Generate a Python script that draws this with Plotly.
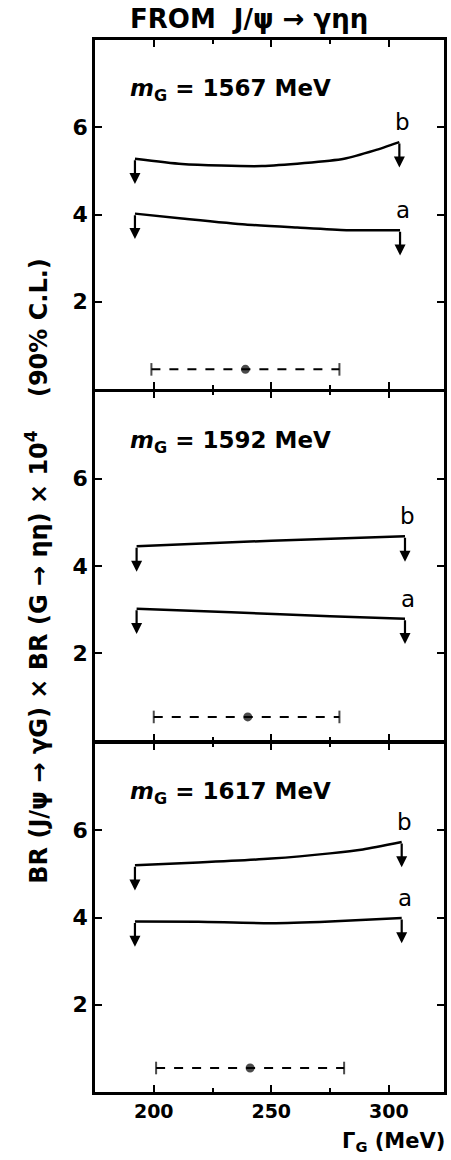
import plotly.graph_objects as go
from plotly.subplots import make_subplots

# ---------------- data ----------------
masses = ["1567", "1592", "1617"]

# upper limit curves: b (upper) and a (lower); x = Gamma_G (MeV), y = BR x BR x 1e4
g1_b = [192, 212, 246, 281, 294, 304.5]
v1_b = [5.28, 5.16, 5.11, 5.28, 5.47, 5.66]
g1_a = [192, 212, 239, 261, 282, 304.8]
v1_a = [4.02, 3.91, 3.77, 3.70, 3.64, 3.64]

g2_b = [192.7, 250, 306.9]
v2_b = [4.45, 4.58, 4.68]
g2_a = [192.7, 233, 275, 306.9]
v2_a = [3.02, 2.94, 2.85, 2.79]

g3_b = [192, 219, 250, 275, 289, 305.5]
v3_b = [5.20, 5.26, 5.35, 5.47, 5.56, 5.73]
g3_a = [192, 219, 250, 275, 305.5]
v3_a = [3.91, 3.90, 3.87, 3.91, 3.99]

curves_b = [(g1_b, v1_b), (g2_b, v2_b), (g3_b, v3_b)]
curves_a = [(g1_a, v1_a), (g2_a, v2_a), (g3_a, v3_a)]

# measured width (dashed bar): centre, low, high, drawn height
gamma_c = [239, 240, 241]
gamma_lo = [199, 200, 201]
gamma_hi = [279, 279, 281]
bar_y = [0.45, 0.54, 0.55]

arrow_len = 0.58          # length of the upper-limit arrows (data units)
x_ticks = [200, 250, 300]
y_ticks = [2, 4, 6]

FONT = "DejaVu Sans"
BLACK = "black"
LW = 2.5
PLOT_H = 1160 - 40 - 68

fig = make_subplots(rows=3, cols=1, shared_xaxes=True,
                    vertical_spacing=LW / PLOT_H)

for i in range(3):
    row = i + 1
    xr = "x" if row == 1 else f"x{row}"
    yr = "y" if row == 1 else f"y{row}"
    for (gx, gy), lab in ((curves_b[i], "b"), (curves_a[i], "a")):
        fig.add_trace(go.Scatter(x=gx, y=gy, mode="lines",
                                 line=dict(color=BLACK, width=2.5, shape="spline", smoothing=0.6),
                                 showlegend=False, hoverinfo="skip"), row=row, col=1)
        # arrows at both ends
        for xe, ye in ((gx[0], gy[0]), (gx[-1], gy[-1])):
            fig.add_annotation(x=xe, y=ye - arrow_len, ax=xe, ay=ye,
                               xref=xr, yref=yr, axref=xr, ayref=yr,
                               text="", showarrow=True, arrowhead=2,
                               arrowsize=1.0, arrowwidth=2.2, arrowcolor=BLACK)
        # label a / b
        fig.add_annotation(x=gx[-1], y=gy[-1], xref=xr, yref=yr, text=lab,
                           showarrow=False, xanchor="center", yanchor="bottom",
                           xshift=3, yshift=5,
                           font=dict(family=FONT, size=23, color=BLACK))
    # dashed measured-width bar
    fig.add_trace(go.Scatter(x=[gamma_lo[i], gamma_c[i], gamma_hi[i]],
                             y=[bar_y[i]] * 3, mode="lines+markers",
                             line=dict(color=BLACK, width=2, dash="dash"),
                             marker=dict(symbol=["line-ns", "circle", "line-ns"],
                                         size=[9, 7, 9], color=BLACK,
                                         line=dict(color=BLACK, width=2)),
                             showlegend=False, hoverinfo="skip"), row=row, col=1)
    # mass label
    fig.add_annotation(x=189, y=6.85, xref=xr, yref=yr,
                       text=f"<i>m</i><sub>G</sub> = {masses[i]} MeV",
                       showarrow=False, xanchor="left", yanchor="middle",
                       font=dict(family=FONT, size=23, color=BLACK, weight="bold"))

axis_common = dict(showline=True, linecolor=BLACK, linewidth=LW, mirror="allticks",
                   ticks="inside", ticklen=7, tickwidth=2, tickcolor=BLACK,
                   showgrid=False, zeroline=False)

for row in (1, 2, 3):
    fig.update_xaxes(range=[175, 323.5], tickvals=x_ticks,
                     minor=dict(dtick=25, tick0=0, ticks="inside", ticklen=4,
                                tickwidth=2, tickcolor=BLACK, showgrid=False),
                     tickfont=dict(family=FONT, size=19, color=BLACK, weight="bold"),
                     row=row, col=1, **axis_common)
    fig.update_yaxes(range=[0, 8], tickvals=y_ticks,
                     tickfont=dict(family=FONT, size=22, color=BLACK, weight="bold"),
                     row=row, col=1, **axis_common)

# title at top
fig.add_annotation(x=0.44, y=1, xref="paper", yref="paper", yanchor="bottom", yshift=4,
                   text="FROM  J/ψ → γηη", showarrow=False,
                   font=dict(family=FONT, size=26, color=BLACK, weight="bold"))
# y axis title
fig.add_annotation(x=-0.165, y=0.495, xref="paper", yref="paper", textangle=-90,
                   text="BR (J/ψ → γG) × BR (G → ηη) × 10<sup>4</sup>    (90% C.L.)",
                   showarrow=False, xanchor="center", yanchor="middle",
                   font=dict(family=FONT, size=24, color=BLACK, weight="bold"))
# x axis title
fig.add_annotation(x=1, y=0, xref="paper", yref="paper", xanchor="right", yanchor="top",
                   xshift=3, yshift=-35, text="Γ<sub>G</sub> (MeV)", showarrow=False,
                   font=dict(family=FONT, size=21, color=BLACK, weight="bold"))

fig.update_layout(width=451, height=1160, margin=dict(l=95, r=4, t=40, b=68),
                  paper_bgcolor="white", plot_bgcolor="white", showlegend=False)

fig.write_html("out.html", config={"displayModeBar": False},
               post_script="document.body.style.margin='0';")
